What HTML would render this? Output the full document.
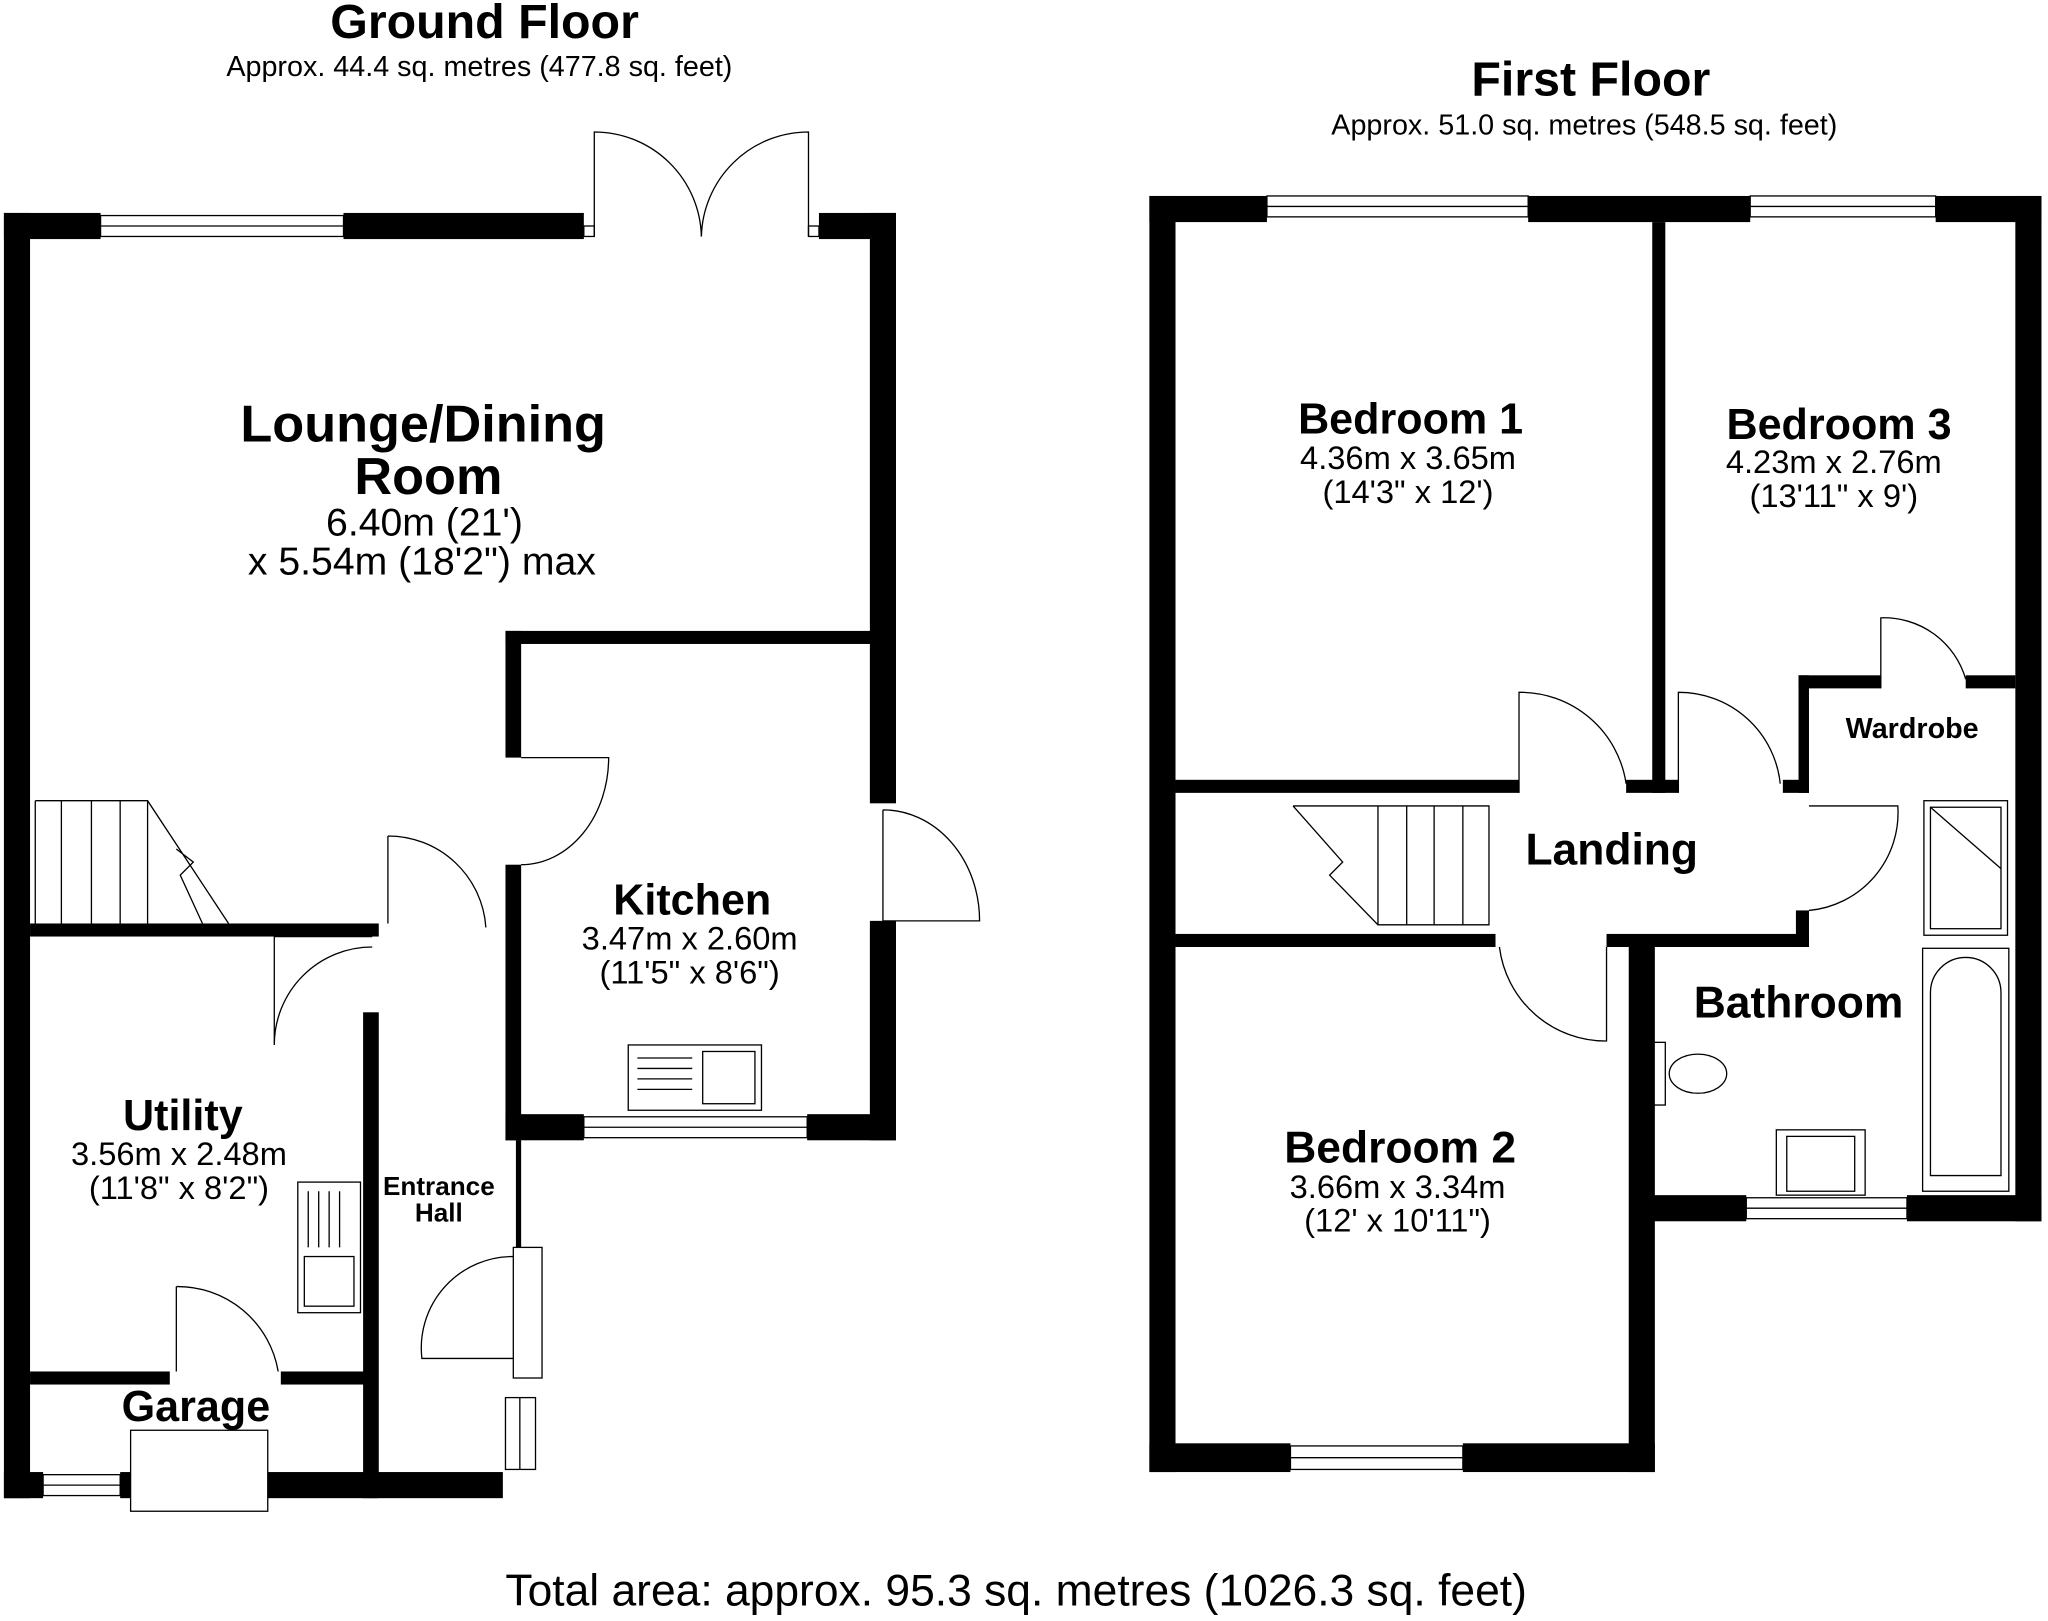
<!DOCTYPE html>
<html><head><meta charset="utf-8"><style>
html,body{margin:0;padding:0;background:#fff}
svg{display:block}
text{font-family:"Liberation Sans",Arial,sans-serif;fill:#000;text-anchor:middle}
.b{font-weight:bold}
</style></head><body>
<svg width="2048" height="1621" viewBox="0 0 1568 1241" xmlns="http://www.w3.org/2000/svg">
<rect width="1568" height="1241" fill="#fff"/>
<g fill="#000">
<rect x="3" y="163" width="74" height="20"/><rect x="263" y="163" width="184" height="20"/>
<rect x="627" y="163" width="59" height="20"/>
<rect x="3" y="163" width="20" height="984"/>
<rect x="666" y="163" width="20" height="452"/>
<rect x="666" y="705" width="20" height="168"/>
<rect x="387" y="853" width="60" height="20"/><rect x="618" y="853" width="68" height="20"/>
<rect x="387" y="483" width="299" height="10"/>
<rect x="387" y="483" width="12" height="97"/>
<rect x="387" y="662" width="12" height="211"/>
<rect x="23" y="707" width="267" height="10"/>
<rect x="278" y="775" width="12" height="372"/>
<rect x="23" y="1050" width="107" height="10"/><rect x="215" y="1050" width="65" height="10"/>
<rect x="3" y="1127" width="30" height="20"/><rect x="92" y="1127" width="8" height="20"/>
<rect x="205" y="1127" width="180" height="20"/>
<rect x="395" y="873" width="4" height="82"/>
<rect x="880" y="150" width="90" height="20"/><rect x="1170" y="150" width="170" height="20"/>
<rect x="1482" y="150" width="81" height="20"/>
<rect x="880" y="150" width="20" height="977"/>
<rect x="1543" y="150" width="20" height="785"/>
<rect x="880" y="1105" width="108" height="22"/><rect x="1120" y="1105" width="147" height="22"/>
<rect x="1247" y="718" width="20" height="409"/>
<rect x="1255" y="915" width="82" height="20"/><rect x="1460" y="915" width="103" height="20"/>
<rect x="1265" y="170" width="10" height="437"/>
<rect x="900" y="597" width="263" height="10"/>
<rect x="1245" y="597" width="40" height="10"/>
<rect x="1365" y="597" width="20" height="10"/>
<rect x="1377" y="517" width="8" height="90"/>
<rect x="1377" y="517" width="63" height="10"/><rect x="1505" y="517" width="38" height="10"/>
<rect x="900" y="715" width="245" height="10"/>
<rect x="1230" y="715" width="155" height="10"/>
<rect x="1375" y="697" width="10" height="28"/>
</g>
<g fill="none" stroke="#000" stroke-width="1">
<rect x="77" y="165" width="186" height="16"/><line x1="77" y1="173" x2="263" y2="173"/>
<rect x="447" y="855" width="171" height="16"/><line x1="447" y1="863" x2="618" y2="863"/>
<rect x="33" y="1129" width="59" height="16"/><line x1="33" y1="1137" x2="92" y2="1137"/>
<rect x="970" y="150" width="200" height="16"/><line x1="970" y1="158" x2="1170" y2="158"/>
<rect x="1340" y="150" width="142" height="16"/><line x1="1340" y1="158" x2="1482" y2="158"/>
<rect x="988" y="1107" width="132" height="18"/><line x1="988" y1="1116" x2="1120" y2="1116"/>
<rect x="1337" y="917" width="123" height="16"/><line x1="1337" y1="925" x2="1460" y2="925"/>
<rect x="387" y="1070" width="23" height="55"/><line x1="398" y1="1070" x2="398" y2="1125"/>
<rect x="447" y="173" width="8" height="8"/><rect x="619" y="173" width="8" height="8"/>
<path d="M455 181 V101 A82 82 0 0 1 537 181"/><path d="M619 181 V101 A82 82 0 0 0 537 181"/>
<path d="M399 580 H466 A67 82 0 0 1 399 662"/>
<path d="M676 620 V705 H750 A74 85 0 0 0 676 620"/>
<path d="M297 640 V707 M297 640 A75 75 0 0 1 372 710"/>
<path d="M285 717 L210 717 V800 M210 800 A75 75 0 0 1 285 725"/>
<path d="M135 985 V1050 M135 985 A78 78 0 0 1 213 1050"/>
<rect x="393" y="955" width="22" height="100"/><path d="M393 962 A70 70 0 0 0 323 1040 H393"/>
<rect x="100" y="1095" width="105" height="62"/>
<path d="M27 613 H113 L175 707 M27 613 V707 M47 613 V707 M70 613 V707 M92 613 V707 M113 613 V707 M135 650 L148 660 L138 670 L155 707"/>
<rect x="481" y="800" width="102" height="50"/><rect x="538" y="805" width="40" height="40"/>
<path d="M488 810 H530 M488 818 H530 M488 826 H530 M488 834 H530"/>
<rect x="228" y="905" width="48" height="100"/><rect x="233" y="962" width="38" height="38"/>
<path d="M236 912 V955 M244 912 V955 M252 912 V955 M260 912 V955"/>
<path d="M1163 607 V530 A82 82 0 0 1 1245 600"/>
<path d="M1285 607 V530 A78 78 0 0 1 1363 600"/>
<path d="M1440 527 V473 A65 65 0 0 1 1505 520"/>
<path d="M1385 697 A75 75 0 0 0 1453 617 H1385"/>
<path d="M1230 725 V797 A82 82 0 0 1 1148 725"/>
<path d="M990 617 H1140 V708 H1055 L1018 670 L1028 660 L990 617 M1055 617 V708 M1077 617 V708 M1098 617 V708 M1120 617 V708"/>
<rect x="1473" y="613" width="64" height="103"/><rect x="1478" y="618" width="54" height="93"/><path d="M1478 618 L1532 665"/>
<rect x="1472" y="726" width="66" height="186"/><path d="M1478 900 V760 A27 27 0 0 1 1532 760 V900 Z"/>
<ellipse cx="1300" cy="822" rx="22" ry="15"/><rect x="1257" y="798" width="18" height="48"/>
<rect x="1360" y="865" width="68" height="50"/><rect x="1368" y="870" width="52" height="42"/>
</g>
<text x="371" y="29" font-size="37" class="b">Ground Floor</text>
<text x="367" y="58" font-size="22">Approx. 44.4 sq. metres (477.8 sq. feet)</text>
<text x="1218" y="73" font-size="37" class="b">First Floor</text>
<text x="1213" y="103" font-size="22">Approx. 51.0 sq. metres (548.5 sq. feet)</text>
<text x="324" y="338" font-size="40" class="b">Lounge/Dining</text>
<text x="328" y="378" font-size="40" class="b">Room</text>
<text x="325" y="410" font-size="30">6.40m (21')</text>
<text x="323" y="440" font-size="30">x 5.54m (18'2") max</text>
<text x="530" y="700" font-size="33" class="b">Kitchen</text>
<text x="528" y="727" font-size="25">3.47m x 2.60m</text>
<text x="528" y="753" font-size="25">(11'5" x 8'6")</text>
<text x="140" y="865" font-size="33" class="b">Utility</text>
<text x="137" y="892" font-size="25">3.56m x 2.48m</text>
<text x="137" y="918" font-size="25">(11'8" x 8'2")</text>
<text x="336" y="915" font-size="20" class="b">Entrance</text>
<text x="336" y="935" font-size="20" class="b">Hall</text>
<text x="150" y="1088" font-size="33" class="b">Garage</text>
<text x="1080" y="332" font-size="33" class="b">Bedroom 1</text>
<text x="1078" y="359" font-size="25">4.36m x 3.65m</text>
<text x="1078" y="385" font-size="25">(14'3" x 12')</text>
<text x="1408" y="336" font-size="33" class="b">Bedroom 3</text>
<text x="1404" y="362" font-size="25">4.23m x 2.76m</text>
<text x="1404" y="388" font-size="25">(13'11" x 9')</text>
<text x="1464" y="565" font-size="22" class="b">Wardrobe</text>
<text x="1234" y="662" font-size="34" class="b">Landing</text>
<text x="1377" y="779" font-size="34" class="b">Bathroom</text>
<text x="1072" y="890" font-size="34" class="b">Bedroom 2</text>
<text x="1070" y="917" font-size="25">3.66m x 3.34m</text>
<text x="1070" y="943" font-size="25">(12' x 10'11")</text>
<text x="778" y="1229" font-size="34">Total area: approx. 95.3 sq. metres (1026.3 sq. feet)</text>
</svg>
</body></html>
